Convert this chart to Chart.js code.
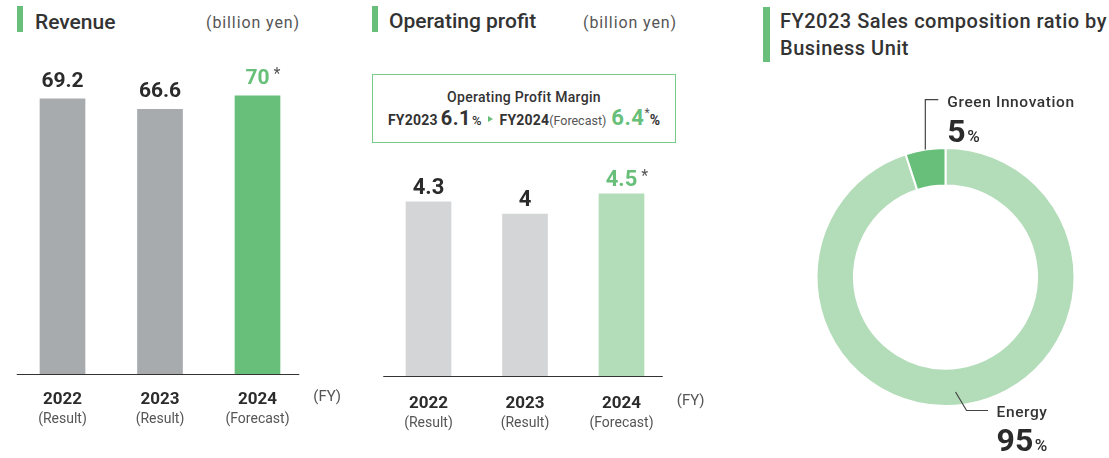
<!DOCTYPE html>
<html>
<head>
<meta charset="utf-8">
<script src="https://cdn.jsdelivr.net/npm/chart.js@4.4.1/dist/chart.umd.min.js"></script>
<style>
  body { margin: 0; background: #fff; font-family: Roboto, "Noto Sans", sans-serif; color: #2b2b2b; }
  #page { position: relative; width: 1109px; height: 458px; overflow: hidden; }
  .abs { position: absolute; line-height: 1; white-space: nowrap; }
  .mark { position: absolute; background: #67bf79; }
  .head { font-size: 21px; font-weight: 500; color: #333; }
  .unit { font-size: 16px; color: #555; letter-spacing: 0.9px; }
  .panel { position: absolute; top: 0; height: 458px; }
  .box { position: absolute; left: 372px; top: 74px; width: 304px; height: 69px;
         box-sizing: border-box; border: 1.5px solid #79c98a; }
  .row { position: absolute; left: 372px; width: 304px; display: flex;
         justify-content: center; align-items: baseline; line-height: 1; white-space: nowrap; }
  .tri { display: inline-block; width: 0; height: 0; border-left: 5px solid #67bf79;
         border-top: 3.5px solid transparent; border-bottom: 3.5px solid transparent;
         margin: 0 7px 0 6px; align-self: center; position: relative; top: 1px; }
</style>
</head>
<body>
<div id="page">
  <div class="mark" style="left:17px; top:6px; width:6px; height:26px;"></div>
  <div class="abs head" style="left:35px; top:12px;">Revenue</div>
  <div class="abs unit" style="left:206px; top:15px;">(billion yen)</div>

  <div class="mark" style="left:372px; top:6px; width:6px; height:26px;"></div>
  <div class="abs head" style="left:389px; top:11px;">Operating profit</div>
  <div class="abs unit" style="left:583px; top:15px;">(billion yen)</div>

  <div class="box"></div>
  <div class="row" style="top:90px; font-size:14px; font-weight:500; color:#333; letter-spacing:0.3px;">Operating Profit Margin</div>
  <div class="row" style="top:107px; color:#333;">
    <span style="font-size:14px; font-weight:700; letter-spacing:0.2px;">FY2023</span>
    <span style="font-size:20px; font-weight:700; margin-left:3px; letter-spacing:0.5px;">6.1</span>
    <span style="font-size:13px; font-weight:500; margin-left:1px;">%</span>
    <span class="tri"></span>
    <span style="font-size:14px; font-weight:700; letter-spacing:0.2px;">FY2024</span>
    <span style="font-size:12.5px; color:#555;">(Forecast)</span>
    <span style="font-size:22px; font-weight:700; color:#67bf79; margin-left:5px; letter-spacing:0.5px;">6.4</span>
    <span style="font-size:12px; color:#555; align-self:flex-start;">*</span>
    <span style="font-size:14px; font-weight:700;">%</span>
  </div>

  <div class="mark" style="left:763px; top:7px; width:7px; height:55px;"></div>
  <div class="abs" style="left:780px; top:8px; font-size:20px; font-weight:500; line-height:27px; color:#333; letter-spacing:0.5px;">FY2023 Sales composition ratio by<br>Business Unit</div>

  <div class="panel" style="left:0; width:360px;"><canvas id="revenueChart"></canvas></div>
  <div class="panel" style="left:360px; width:360px;"><canvas id="profitChart"></canvas></div>
  <div class="panel" style="left:760px; width:349px;"><canvas id="shareChart"></canvas></div>
</div>

<script>
const fiscalYears = ['2022', '2023', '2024'];
const yearNotes = ['(Result)', '(Result)', '(Forecast)'];
const isForecast = [false, false, true];
const revenueValues = [69.2, 66.6, 70];
const profitValues = [4.3, 4, 4.5];
const unitNames = ['Energy', 'Green Innovation'];
const unitShares = [95, 5];

const GREEN = '#67bf79';
const LIGHT_GREEN = '#b3dcb9';
const TEXT = '#2b2b2b';
const MUTED = '#555';
const FONT = 'Roboto, "Noto Sans", sans-serif';

// baseline, value labels and year captions under the bars
const barDecor = {
    id: 'barDecor',
    afterDatasetsDraw: function (chart, args, opts) {
        var ctx = chart.ctx;
        var area = chart.chartArea;
        var meta = chart.getDatasetMeta(0);
        var values = chart.data.datasets[0].data;

        ctx.save();
        ctx.strokeStyle = '#333';
        ctx.lineWidth = 1.2;
        ctx.beginPath();
        ctx.moveTo(area.left + 3, area.bottom + 0.5);
        ctx.lineTo(area.right - 7, area.bottom + 0.5);
        ctx.stroke();

        meta.data.forEach(function (bar, i) {
            var text = String(values[i]);
            var base = bar.y - opts.valueGap;
            ctx.textBaseline = 'alphabetic';
            ctx.textAlign = 'center';
            ctx.font = 'bold ' + opts.valueSize + 'px ' + FONT;
            ctx.fillStyle = isForecast[i] ? GREEN : TEXT;
            ctx.fillText(text, bar.x, base);
            if (isForecast[i]) {
                var w = ctx.measureText(text).width;
                ctx.textAlign = 'left';
                ctx.font = '16px ' + FONT;
                ctx.fillStyle = MUTED;
                ctx.fillText('*', bar.x + w / 2 + 4, base - 5);
            }

            ctx.textAlign = 'center';
            ctx.font = 'bold 17px ' + FONT;
            ctx.fillStyle = TEXT;
            ctx.fillText(chart.data.labels[i], bar.x, area.bottom + opts.yearGap);
            ctx.font = '14px ' + FONT;
            ctx.fillStyle = MUTED;
            ctx.fillText(yearNotes[i], bar.x, area.bottom + opts.yearGap + 19);
        });

        ctx.textAlign = 'left';
        ctx.font = '15px ' + FONT;
        ctx.fillStyle = MUTED;
        ctx.fillText('(FY)', area.right + 7, area.bottom + opts.yearGap - 3);
        ctx.restore();
    }
};

function makeBarChart(canvasId, values, baseColor, yMax, padding, decor) {
    return new Chart(document.getElementById(canvasId), {
        type: 'bar',
        data: {
            labels: fiscalYears,
            datasets: [{
                data: values,
                backgroundColor: values.map(function (v, i) {
                    return isForecast[i] ? decor.forecastColor : baseColor;
                }),
                barThickness: 45
            }]
        },
        options: {
            responsive: true,
            maintainAspectRatio: false,
            animation: false,
            events: [],
            layout: { padding: padding },
            scales: {
                x: { display: false },
                y: { display: false, min: 0, max: yMax }
            },
            plugins: {
                legend: { display: false },
                tooltip: { enabled: false },
                barDecor: decor
            }
        },
        plugins: [barDecor]
    });
}

makeBarChart('revenueChart', revenueValues, '#a8abae', 80,
    { left: 13.75, right: 53.75, top: 56, bottom: 84 },
    { forecastColor: GREEN, valueSize: 21, valueGap: 12, yearGap: 30 });

makeBarChart('profitChart', profitValues, '#d4d5d7', 6,
    { left: 20.25, right: 50.25, top: 133, bottom: 82 },
    { forecastColor: LIGHT_GREEN, valueSize: 22, valueGap: 8, yearGap: 32 });

// leader lines and share labels around the ring
const donutCallouts = {
    id: 'donutCallouts',
    afterDraw: function (chart) {
        var ctx = chart.ctx;
        var arcs = chart.getDatasetMeta(0).data;
        var shares = chart.data.datasets[0].data;
        var names = chart.data.labels;

        function label(name, share, x, y) {
            ctx.textAlign = 'left';
            ctx.textBaseline = 'alphabetic';
            ctx.fillStyle = '#333';
            ctx.font = '500 15.5px ' + FONT;
            ctx.letterSpacing = '0.6px';
            ctx.fillText(name, x, y);
            ctx.letterSpacing = '0px';
            ctx.font = 'bold 32px ' + FONT;
            ctx.fillStyle = TEXT;
            var num = String(share);
            ctx.fillText(num, x, y + 34.5);
            var w = ctx.measureText(num).width;
            ctx.font = '500 17px ' + FONT;
            ctx.fillText('%', x + w + 1.5, y + 34.5);
        }

        ctx.save();
        ctx.strokeStyle = '#444';
        ctx.lineWidth = 1.2;

        // small slice: line from the middle of its outer edge, up and to the right
        var g = arcs[1];
        var mid = (g.startAngle + g.endAngle) / 2;
        var gx = g.x + Math.cos(mid) * g.outerRadius;
        var gy = g.y + Math.sin(mid) * g.outerRadius;
        ctx.beginPath();
        ctx.moveTo(gx, gy);
        ctx.lineTo(gx, gy - 50);
        ctx.lineTo(gx + 13, gy - 50);
        ctx.stroke();
        label(names[1], shares[1], gx + 22, gy - 42.5);

        // large slice: line from inside the ring near the bottom, down and to the right
        var e = arcs[0];
        var ang = (175 - 90) * Math.PI / 180;
        var r = e.outerRadius * 0.895;
        var ex = e.x + Math.cos(ang) * r;
        var ey = e.y + Math.sin(ang) * r;
        ctx.beginPath();
        ctx.moveTo(ex, ey);
        ctx.lineTo(ex + 11, ey + 18.5);
        ctx.lineTo(ex + 32.5, ey + 18.5);
        ctx.stroke();
        label(names[0], shares[0], ex + 41, ey + 24.5);
        ctx.restore();
    }
};

new Chart(document.getElementById('shareChart'), {
    type: 'doughnut',
    data: {
        labels: unitNames,
        datasets: [{
            data: unitShares,
            backgroundColor: [LIGHT_GREEN, GREEN],
            borderColor: '#ffffff',
            borderWidth: 2
        }]
    },
    options: {
        responsive: true,
        maintainAspectRatio: false,
        animation: false,
        events: [],
        cutout: '71%',
        layout: { padding: { left: 55.5, right: 33.5, top: 147, bottom: 51 } },
        plugins: {
            legend: { display: false },
            tooltip: { enabled: false }
        }
    },
    plugins: [donutCallouts]
});
</script>
</body>
</html>
